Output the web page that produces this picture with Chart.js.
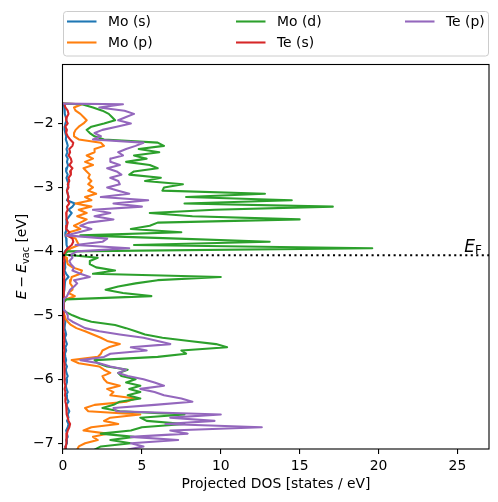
<!DOCTYPE html>
<html>
<head>
<meta charset="utf-8">
<script src="https://cdn.jsdelivr.net/npm/chart.js@4.4.0/dist/chart.umd.min.js"></script>
<style>
  html, body { margin: 0; padding: 0; background: #fff; }
  #c { display: block; }
</style>
</head>
<body>
<canvas id="c" width="498" height="502"></canvas>
<script>
// ---------------------------------------------------------------------------
// Datos: energías (eje vertical) y DOS proyectada de cada orbital
// ---------------------------------------------------------------------------
const energies = [-1.69,
  -1.70, -1.75, -1.80, -1.85, -1.90, -1.95, -2.00, -2.05, -2.10, -2.15,
  -2.20, -2.25, -2.30, -2.35, -2.40, -2.45, -2.50, -2.55, -2.60, -2.65,
  -2.70, -2.75, -2.80, -2.85, -2.90, -2.95, -3.00, -3.05, -3.10, -3.15,
  -3.20, -3.25, -3.30, -3.35, -3.40, -3.45, -3.50, -3.55, -3.60, -3.65,
  -3.70, -3.75, -3.80, -3.85, -3.90, -3.95, -4.00, -4.05, -4.10, -4.15,
  -4.20, -4.25, -4.30, -4.35, -4.40, -4.45, -4.50, -4.55, -4.60, -4.65,
  -4.70, -4.75, -4.80, -4.85, -4.90, -4.95, -5.00, -5.05, -5.10, -5.15,
  -5.20, -5.25, -5.30, -5.35, -5.40, -5.45, -5.50, -5.55, -5.60, -5.65,
  -5.70, -5.75, -5.80, -5.85, -5.90, -5.95, -6.00, -6.05, -6.10, -6.15,
  -6.20, -6.25, -6.30, -6.35, -6.40, -6.45, -6.50, -6.55, -6.60, -6.65,
  -6.70, -6.75, -6.80, -6.85, -6.90, -6.95, -7.00, -7.05, -7.10];

const dosMoS = [0,
  0.05, 0.08, 0.10, 0.12, 0.18, 0.22, 0.15, 0.12, 0.10, 0.15,
  0.20, 0.18, 0.25, 0.30, 0.22, 0.28, 0.20, 0.30, 0.25, 0.32,
  0.25, 0.20, 0.30, 0.22, 0.28, 0.35, 0.30, 0.25, 0.30, 0.35,
  0.25, 0.75, 0.60, 0.35, 0.55, 0.40, 0.25, 0.20, 0.25, 0.20,
  0.18, 0.15, 0.20, 0.25, 0.20, 0.30, 0.12, 0.05, 0.10, 0.15,
  0.12, 0.15, 0.10, 0.20, 0.35, 0.15, 0.12, 0.10, 0.08, 0.05,
  0.05, 0.02, 0.00, 0.00, 0.00, 0.02, 0.05, 0.10, 0.15, 0.12,
  0.10, 0.15, 0.20, 0.12, 0.18, 0.25, 0.15, 0.20, 0.12, 0.15,
  0.20, 0.15, 0.25, 0.18, 0.22, 0.30, 0.20, 0.25, 0.18, 0.22,
  0.30, 0.20, 0.25, 0.35, 0.20, 0.30, 0.40, 0.30, 0.35, 0.25,
  0.35, 0.30, 0.20, 0.25, 0.30, 0.20, 0.25, 0.15, 0.20];

const dosMoP = [0,
  1.2, 0.7, 0.8, 1.1, 1.3, 1.5, 1.3, 1.0, 0.8, 0.7,
  0.7, 1.0, 2.4, 2.6, 2.0, 2.0, 1.5, 1.9, 1.4, 1.9,
  1.3, 1.5, 1.7, 1.6, 1.8, 1.6, 1.9, 1.6, 2.1, 1.4,
  1.8, 0.8, 1.8, 1.0, 1.5, 0.9, 1.5, 1.1, 0.7, 1.1,
  0.4, 0.2, 0.8, 0.9, 1.0, 0.5, 0.25, 0.05, 0.2, 0.25,
  0.3, 0.6, 1.2, 1.1, 0.55, 0.5, 0.45, 0.6, 0.6, 0.35,
  0.75, 0.2, 0.02, 0.0, 0.0, 0.05, 0.1, 0.15, 0.3, 0.5,
  0.85, 1.4, 1.9, 2.4, 2.8, 3.6, 2.9, 2.5, 2.4, 2.2,
  0.55, 1.0, 2.3, 2.6, 3.0, 2.5, 2.6, 2.8, 3.6, 2.8,
  3.2, 3.0, 4.6, 4.0, 2.0, 1.4, 1.6, 4.9, 3.0, 2.6,
  3.5, 1.8, 1.3, 2.8, 1.9, 2.2, 1.4, 1.0, 0.9];

const dosMoD = [0,
  1.2, 1.9, 2.5, 2.9, 3.1, 3.3, 2.6, 1.8, 1.5, 1.7,
  2.0, 2.6, 6.0, 6.4, 4.8, 6.1, 4.5, 5.3, 4.0, 5.5,
  6.0, 4.5, 4.2, 6.2, 5.2, 7.6, 6.4, 6.3, 12.8, 7.8,
  14.5, 7.7, 17.1, 9.6, 5.5, 8.2, 15.0, 6.0, 5.5, 4.3,
  7.5, 1.1, 7.3, 13.1, 4.5, 19.6, 0.3, 0.05, 2.2, 1.7,
  1.7, 2.1, 3.3, 1.9, 10.0, 6.0, 4.6, 3.5, 2.7, 3.8,
  5.6, 0.2, 0.05, 0.0, 0.0, 0.2, 0.6, 1.1, 1.8, 3.3,
  4.0, 4.6, 5.2, 6.3, 8.0, 9.7, 10.4, 7.5, 7.8, 6.0,
  2.0, 2.2, 2.8, 4.1, 3.5, 3.7, 4.6, 4.0, 4.9, 4.2,
  4.9, 4.1, 4.9, 3.6, 3.2, 2.5, 3.6, 7.7, 4.9, 5.3,
  7.7, 5.0, 4.3, 2.4, 4.5, 3.0, 4.3, 2.4, 2.0];

const dosTeS = [0,
  0.10, 0.15, 0.30, 0.35, 0.25, 0.20, 0.30, 0.15, 0.25, 0.20,
  0.30, 0.45, 0.65, 0.60, 0.40, 0.45, 0.35, 0.50, 0.55, 0.40,
  0.60, 0.45, 0.50, 0.35, 0.40, 0.30, 0.35, 0.25, 0.30, 0.35,
  0.30, 0.40, 0.25, 0.30, 0.20, 0.25, 0.20, 0.30, 0.25, 0.20,
  0.40, 0.30, 0.60, 0.65, 0.55, 0.30, 0.15, 0.05, 0.05, 0.08,
  0.05, 0.04, 0.06, 0.05, 0.08, 0.06, 0.05, 0.04, 0.03, 0.02,
  0.02, 0.01, 0.00, 0.00, 0.00, 0.01, 0.02, 0.03, 0.04, 0.05,
  0.06, 0.05, 0.07, 0.06, 0.08, 0.07, 0.06, 0.08, 0.06, 0.05,
  0.06, 0.08, 0.07, 0.09, 0.10, 0.12, 0.10, 0.12, 0.15, 0.10,
  0.15, 0.12, 0.18, 0.15, 0.20, 0.25, 0.20, 0.25, 0.30, 0.35,
  0.45, 0.40, 0.30, 0.25, 0.20, 0.25, 0.20, 0.18, 0.15];

const dosTeP = [0,
  3.8, 2.3, 3.9, 4.5, 4.0, 3.5, 4.3, 3.4, 2.5, 2.0,
  2.4, 1.9, 5.1, 4.6, 4.0, 3.5, 3.8, 3.0, 3.0, 3.6,
  2.8, 3.4, 3.7, 3.0, 3.5, 3.6, 2.8, 3.5, 4.2, 2.4,
  5.4, 3.2, 5.0, 1.9, 3.0, 2.0, 3.2, 1.6, 1.1, 1.8,
  1.0, 0.2, 2.8, 2.5, 0.8, 4.2, 0.9, 0.5, 0.6, 0.4,
  0.5, 0.7, 0.6, 1.1, 1.7, 0.7, 0.9, 0.7, 0.45, 0.35,
  0.25, 0.05, 0.02, 0.0, 0.0, 0.2, 0.3, 0.3, 0.6, 1.0,
  1.4, 2.3, 3.6, 5.1, 6.0, 6.8, 4.3, 5.3, 3.0, 2.6,
  1.1, 2.3, 3.0, 4.0, 3.5, 4.1, 5.1, 5.8, 6.4, 4.9,
  5.8, 6.4, 7.5, 8.2, 5.8, 3.2, 3.4, 10.0, 6.8, 9.6,
  6.5, 12.6, 6.8, 7.9, 4.3, 7.3, 4.3, 5.1, 4.1];

const seriesNames  = ['Mo (s)', 'Mo (p)', 'Mo (d)', 'Te (s)', 'Te (p)'];
const seriesValues = [dosMoS, dosMoP, dosMoD, dosTeS, dosTeP];
const seriesColors = ['#1f77b4', '#ff7f0e', '#2ca02c', '#d62728', '#9467bd'];

const FERMI = -4.06;
const X_MIN = 0, X_MAX = 27;
const Y_MIN = -7.09, Y_MAX = -1.07;
const xTicks = [0, 5, 10, 15, 20, 25];
const yTicks = [-7, -6, -5, -4, -3, -2];

const FONT = '"DejaVu Sans", sans-serif';
const FS = 13.9;
const LW = 2.08;   // 1.5 pt a 100 dpi

// ---------------------------------------------------------------------------
// Datasets
// ---------------------------------------------------------------------------
const datasets = seriesValues.map(function (vals, k) {
    return {
        label: seriesNames[k],
        data: energies.map(function (e, i) { return { x: vals[i], y: e }; }),
        borderColor: seriesColors[k],
        backgroundColor: seriesColors[k],
        borderWidth: LW,
        borderJoinStyle: 'round',
        showLine: true,
        pointRadius: 0,
        tension: 0,
        order: seriesValues.length - k   // Te (p) encima
    };
});

datasets.push({
    label: 'EF',
    data: [{ x: X_MIN, y: FERMI }, { x: X_MAX, y: FERMI }],
    borderColor: '#000',
    borderWidth: LW,
    borderDash: [2.08, 3.43],
    showLine: true,
    pointRadius: 0,
    order: 0
});

// ---------------------------------------------------------------------------
// Texto con tramos (cursiva, subíndices)
// ---------------------------------------------------------------------------
function medirTramos(ctx, tramos) {
    let total = 0;
    tramos.forEach(function (t) {
        ctx.font = t.font;
        t.w = ctx.measureText(t.text).width;
        total += t.w + (t.gap || 0);
    });
    return total;
}

function dibujarTramos(ctx, tramos, x, y) {
    let cx = x;
    tramos.forEach(function (t) {
        ctx.font = t.font;
        ctx.fillText(t.text, cx, y + (t.dy || 0));
        cx += t.w + (t.gap || 0);
    });
}

const decoraciones = {
    id: 'decoraciones',
    afterDraw: function (chart) {
        const ctx = chart.ctx;
        const ca = chart.chartArea;
        ctx.save();

        // marco de los ejes
        ctx.strokeStyle = '#000';
        ctx.lineWidth = 1.1;
        ctx.strokeRect(Math.round(ca.left) - 0.5, Math.round(ca.top) + 0.5,
                       Math.round(ca.right - ca.left) + 0.5, Math.round(ca.bottom - ca.top) - 0.5);

        ctx.fillStyle = '#000';
        ctx.textBaseline = 'alphabetic';

        // etiqueta eje x
        ctx.font = FS + 'px ' + FONT;
        ctx.textAlign = 'center';
        ctx.fillText('Projected DOS [states / eV]', (ca.left + ca.right) / 2, 488);

        // etiqueta eje y: E − E_vac [eV]
        ctx.textAlign = 'left';
        const tramosY = [
            { text: 'E', font: 'italic ' + FS + 'px ' + FONT, gap: 3 },
            { text: '\u2212', font: FS + 'px ' + FONT, gap: 3 },
            { text: 'E', font: 'italic ' + FS + 'px ' + FONT },
            { text: 'vac', font: (FS * 0.7) + 'px ' + FONT, dy: 2.5 },
            { text: ' [eV]', font: FS + 'px ' + FONT }
        ];
        const wy = medirTramos(ctx, tramosY);
        ctx.save();
        ctx.translate(21, (ca.top + ca.bottom) / 2);
        ctx.rotate(-Math.PI / 2);
        dibujarTramos(ctx, tramosY, -wy / 2, 5);
        ctx.restore();

        // E_F
        const tramosF = [
            { text: 'E', font: 'italic 17px ' + FONT },
            { text: 'F', font: '12px ' + FONT, dy: 2.5 }
        ];
        const wf = medirTramos(ctx, tramosF);
        dibujarTramos(ctx, tramosF, 482 - wf, 251.5);

        // leyenda (3 columnas, orden por columnas como matplotlib)
        ctx.beginPath();
        ctx.roundRect(63.5, 11.5, 425, 44.5, 3);
        ctx.fillStyle = 'rgba(255,255,255,0.8)';
        ctx.fill();
        ctx.strokeStyle = '#cccccc';
        ctx.lineWidth = 1;
        ctx.stroke();

        const colX = [67, 236, 405];
        const rowY = [21.5, 42.5];
        ctx.font = FS + 'px ' + FONT;
        ctx.textBaseline = 'middle';
        seriesNames.forEach(function (name, k) {
            const col = Math.floor(k / 2), row = k % 2;
            const x0 = colX[col], y0 = rowY[row];
            ctx.strokeStyle = seriesColors[k];
            ctx.lineWidth = LW;
            ctx.beginPath();
            ctx.moveTo(x0, y0);
            ctx.lineTo(x0 + 29.5, y0);
            ctx.stroke();
            ctx.fillStyle = '#000';
            ctx.fillText(name, x0 + 41, y0 + 1);
        });

        ctx.restore();
    }
};

// ---------------------------------------------------------------------------
// Gráfico
// ---------------------------------------------------------------------------
const ticksComunes = {
    color: '#000',
    font: { family: FONT, size: FS },
    padding: 4.5,
    includeBounds: false
};

new Chart(document.getElementById('c').getContext('2d'), {
    type: 'scatter',
    data: { datasets: datasets },
    plugins: [decoraciones],
    options: {
        responsive: false,
        animation: false,
        events: [],
        layout: { padding: { top: 64, right: 9, left: 0, bottom: 0 } },
        plugins: {
            legend: { display: false },
            tooltip: { enabled: false }
        },
        scales: {
            x: {
                type: 'linear',
                min: X_MIN,
                max: X_MAX,
                afterFit: function (s) { s.height = 53; },
                afterBuildTicks: function (s) { s.ticks = xTicks.map(function (v) { return { value: v }; }); },
                ticks: Object.assign({}, ticksComunes, {
                    maxRotation: 0,
                    callback: function (v) { return String(v); }
                }),
                grid: { drawOnChartArea: false, drawTicks: true, tickLength: 4.9, color: '#000', lineWidth: 1.1 },
                border: { display: false }
            },
            y: {
                type: 'linear',
                min: Y_MIN,
                max: Y_MAX,
                afterFit: function (s) { s.width = 63; },
                afterBuildTicks: function (s) { s.ticks = yTicks.map(function (v) { return { value: v }; }); },
                ticks: Object.assign({}, ticksComunes, {
                    callback: function (v) { return (v < 0 ? '\u2212' : '') + Math.abs(v); }
                }),
                grid: { drawOnChartArea: false, drawTicks: true, tickLength: 4.9, color: '#000', lineWidth: 1.1 },
                border: { display: false }
            }
        }
    }
});
</script>
</body>
</html>
